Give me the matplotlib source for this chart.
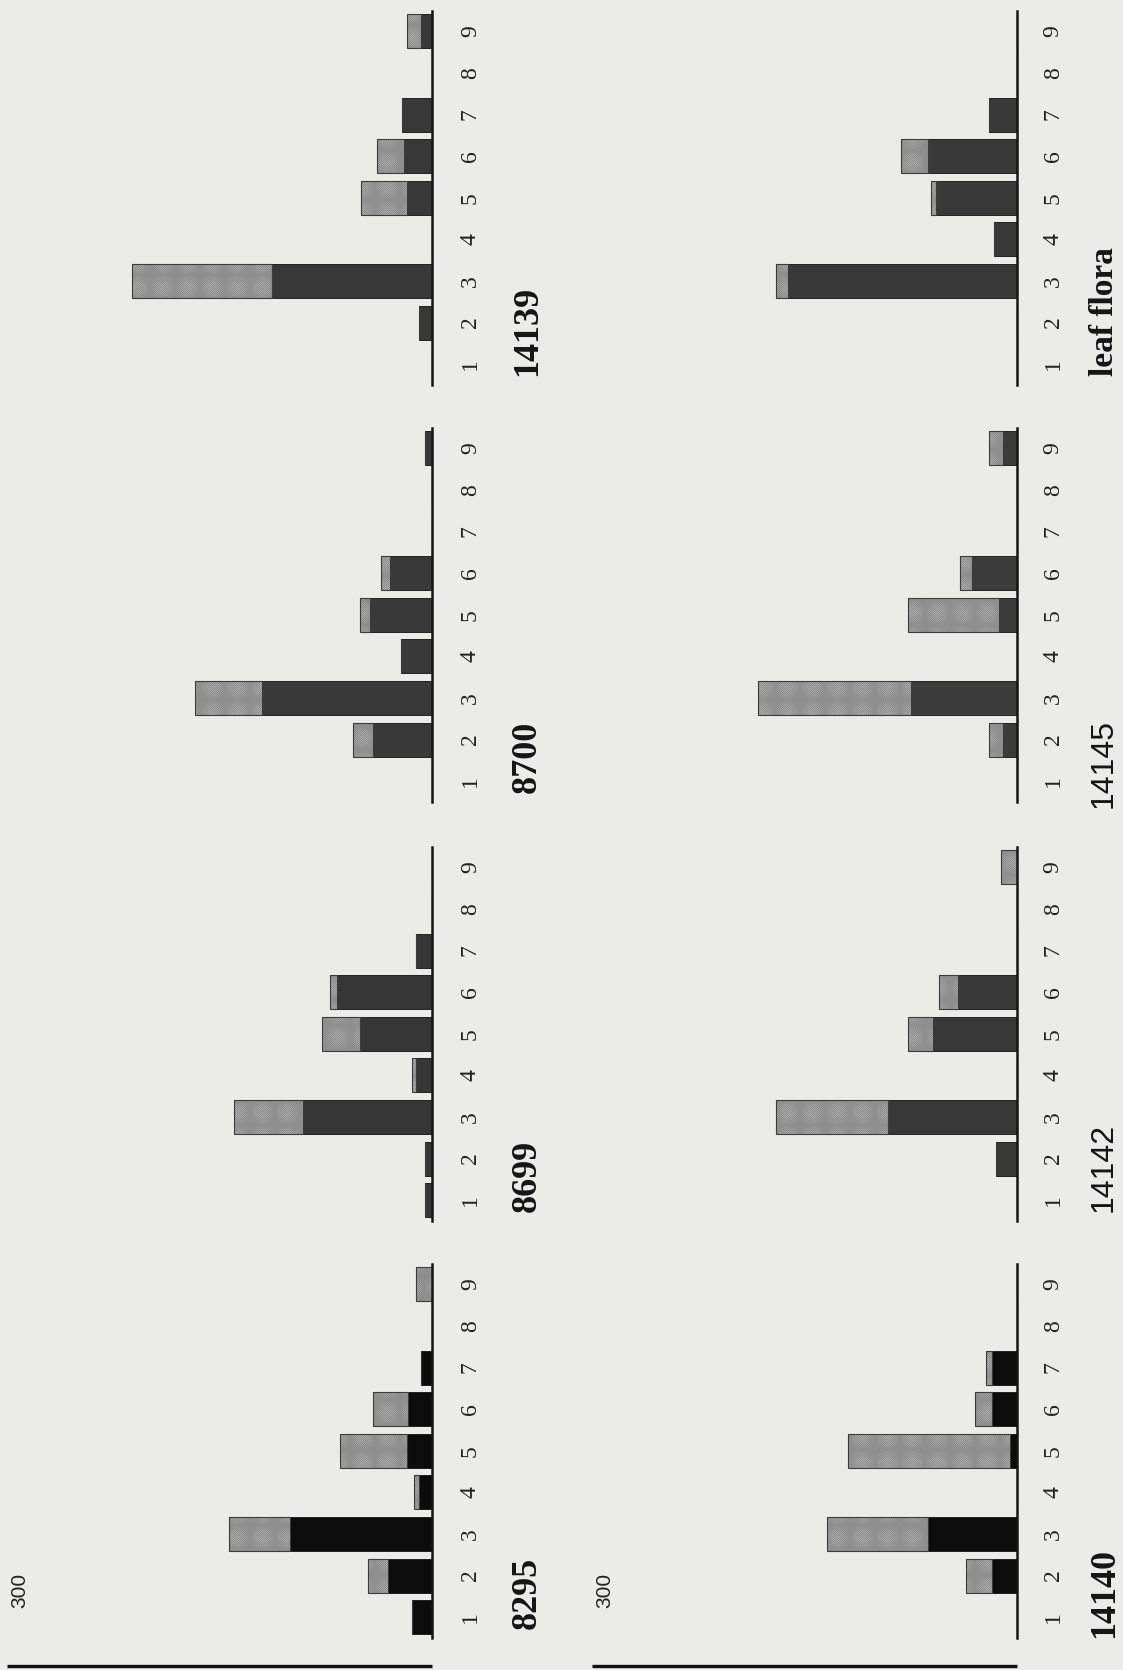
import matplotlib
matplotlib.use("Agg")
import matplotlib.pyplot as plt

# ---------------- data ----------------
categories = [1, 2, 3, 4, 5, 6, 7, 8, 9]
tick_labels = ["1", "2", "3", "4", "5", "6", "7", "8", "9"]
scale_label = "300"
scale_value = 300

panel_names = ["14139", "8700", "8699", "8295",
               "leaf flora", "14145", "14142", "14140"]

# lower (solid) segment of each bar
dark_14139 = [0, 9, 113, 0, 18, 20, 21, 0, 8]
dark_8700 = [0, 42, 120, 22, 44, 30, 0, 0, 5]
dark_8699 = [5, 5, 91, 11, 51, 67, 11, 0, 0]
dark_8295 = [14, 31, 100, 9, 18, 17, 8, 0, 0]
dark_leaf = [0, 0, 162, 16, 57, 63, 20, 0, 0]
dark_14145 = [0, 10, 75, 0, 13, 32, 0, 0, 10]
dark_14142 = [0, 15, 91, 0, 59, 42, 0, 0, 0]
dark_14140 = [0, 18, 63, 0, 5, 18, 18, 0, 0]

# upper (stippled) segment of each bar
light_14139 = [0, 0, 99, 0, 32, 19, 0, 0, 10]
light_8700 = [0, 14, 47, 0, 7, 6, 0, 0, 0]
light_8699 = [0, 0, 49, 3, 27, 5, 0, 0, 0]
light_8295 = [0, 14, 43, 4, 47, 25, 0, 0, 11]
light_leaf = [0, 0, 8, 0, 4, 19, 0, 0, 0]
light_14145 = [0, 10, 108, 0, 64, 8, 0, 0, 10]
light_14142 = [0, 0, 79, 0, 18, 13, 0, 0, 11]
light_14140 = [0, 18, 71, 0, 114, 12, 4, 0, 0]

dark_series = [dark_14139, dark_8700, dark_8699, dark_8295,
               dark_leaf, dark_14145, dark_14142, dark_14140]
light_series = [light_14139, light_8700, light_8699, light_8295,
                light_leaf, light_14145, light_14142, light_14140]

# ---------------- styling / layout ----------------
W, H = 1123, 1670
PAPER = "#ebebe8"
plt.rcParams["hatch.linewidth"] = 0.5

fig = plt.figure(figsize=(W / 100, H / 100), dpi=100, facecolor=PAPER)

col_left_px = [7, 592]          # left edge (value 300) of each column
col_width_px = 425              # 300 units
row_c3_px = [281, 698, 1117, 1534]   # pixel centre of category 3 per row
s = 41.6                        # pixel spacing between categories

solid_colors = ["#383838", "#393939", "#363636", "#0c0c0c",
                "#393939", "#3b3b3b", "#383838", "#0c0c0c"]


def serif(size):
    return dict(family="Liberation Serif", weight="bold", size=size)


def sans(size):
    return dict(family="Liberation Sans", weight="normal", size=size)


label_fonts = [serif(26), serif(26), serif(26), serif(26),
               serif(24), sans(23), sans(23), serif(26)]
label_start = [0.72, 0.72, 0.72, 0.72, 0.72, 0.35, 0.72, 0.5]
tick_x = [1.09, 1.085]
name_x = [1.225, 1.205]

for i, name in enumerate(panel_names):
    col, row = divmod(i, 4)
    c3 = row_c3_px[row]
    top_px = c3 - 6.5 * s
    bot_px = c3 + 2.5 * s
    ax = fig.add_axes([col_left_px[col] / W, 1 - bot_px / H,
                       col_width_px / W, (bot_px - top_px) / H])
    ax.set_facecolor("none")
    dark = dark_series[i]
    light = light_series[i]
    ax.barh(categories, dark, height=0.82, color=solid_colors[i],
            edgecolor="#111111", linewidth=0.6, zorder=2)
    ax.barh(categories, light, left=dark, height=0.82, color="#c6c6c6",
            edgecolor="#8c8c8c", hatch="x" * 16, linewidth=0, zorder=2)
    ax.barh(categories, light, left=dark, height=0.82, fill=False,
            edgecolor="#3c3c3c", linewidth=0.8, zorder=3)
    ax.set_xlim(scale_value, 0)
    ax.set_ylim(0.5, 9.5)
    for sp in ["left", "top", "bottom"]:
        ax.spines[sp].set_visible(False)
    ax.spines["right"].set_linewidth(1.8)
    ax.spines["right"].set_color("#151515")
    ax.spines["right"].set_zorder(4)
    ax.set_xticks([])
    ax.set_yticks([])
    tr = ax.get_yaxis_transform()
    for c, lab in zip(categories, tick_labels):
        ax.text(tick_x[col], c, lab, transform=tr, rotation=90,
                ha="center", va="center", fontsize=17,
                family="Liberation Serif", color="#222222")
    ax.text(name_x[col], label_start[i], name, transform=tr, rotation=90,
            rotation_mode="anchor", ha="left", va="center",
            color="#151515", **label_fonts[i])
    if row == 3:
        yb = 1 - (1666 - (c3 + 2 * s)) / s
        ax.plot([scale_value, 0], [yb, yb], color="#111111", lw=2.4,
                clip_on=False, solid_capstyle="butt")
        ax.text(scale_value - 9, yb + 1.4, scale_label, rotation=90,
                rotation_mode="anchor", ha="left", va="center",
                fontsize=15, family="Liberation Sans", color="#222222")

fig.savefig("out.png", dpi=100, facecolor=PAPER)
